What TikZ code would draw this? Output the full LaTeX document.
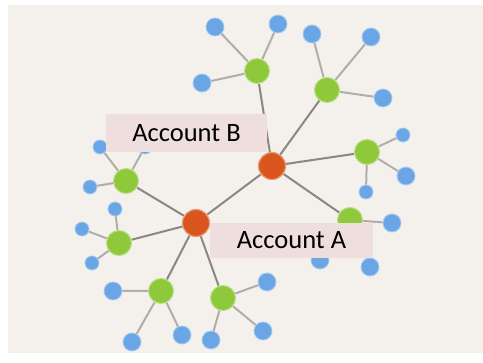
\documentclass[tikz,border=0pt]{standalone}
\usepackage{fontspec}
\setmainfont{Carlito}
\pgfdeclarelayer{bg}
\pgfsetlayers{bg,main}
\begin{document}
\begin{tikzpicture}[x=1pt,y=-1pt,
  red/.style={circle,fill=redc,draw=redc!60!white,line width=1.2pt,minimum size=27pt,inner sep=0pt},
  green/.style={circle,fill=greenc,draw=greenc!60!white,line width=1pt,minimum size=25pt,inner sep=0pt},
  blue/.style={circle,fill=bluec,draw=bluec!60!white,line width=0.8pt,minimum size=18pt,inner sep=0pt},
  blues/.style={circle,fill=bluec,draw=bluec!60!white,line width=0.8pt,minimum size=14pt,inner sep=0pt},
  edgemain/.style={draw=edgedark,line width=2pt},
  edgeleaf/.style={draw=edgelight,line width=2pt},
  label/.style={fill=labelc,inner sep=0pt,font=\fontsize{26.5}{30}\selectfont,text=black}
]
\definecolor{bgc}{HTML}{F4F0EB}
\definecolor{redc}{HTML}{D9561F}
\definecolor{greenc}{HTML}{8DC93A}
\definecolor{bluec}{HTML}{6AA6E6}
\definecolor{edgedark}{HTML}{8A8784}
\definecolor{edgelight}{HTML}{B0ADAA}
\definecolor{labelc}{HTML}{EEDEDD}
\useasboundingbox (0,0) rectangle (483,363);
% red
\node[red] (B) at (272,166) {};
\node[red] (A) at (196,223) {};
% green
\node[green] (g1) at (257,71) {};
\node[green] (g2) at (327,90) {};
\node[green] (g3) at (367,152) {};
\node[green] (g4) at (350,220) {};
\node[green] (g5) at (126,181) {};
\node[green] (g6) at (119,243) {};
\node[green] (g7) at (161,291) {};
\node[green] (g8) at (223,298) {};
% blue
\node[blue] (b11) at (215,27) {};
\node[blue] (b12) at (278,24) {};
\node[blue] (b13) at (202,83) {};
\node[blue] (b21) at (312,34) {};
\node[blue] (b22) at (371,37) {};
\node[blue] (b23) at (383,98) {};
\node[blues] (b31) at (403,135) {};
\node[blue] (b32) at (406,176) {};
\node[blues] (b33) at (366,192) {};
\node[blue] (b41) at (392,223) {};
\node[blue] (b42) at (370,267) {};
\node[blue] (b43) at (320,260) {};
\node[blues] (b51) at (100,147) {};
\node[blues] (b52) at (90,187) {};
\node[blues] (b53) at (145,147) {};
\node[blues] (b61) at (115,209) {};
\node[blues] (b62) at (82,229) {};
\node[blues] (b63) at (92,263) {};
\node[blue] (b71) at (113,291) {};
\node[blue] (b72) at (132,342) {};
\node[blue] (b73) at (182,335) {};
\node[blue] (b81) at (267,282) {};
\node[blue] (b82) at (211,340) {};
\node[blue] (b83) at (263,331) {};
% labels
\node[label,minimum width=161pt,minimum height=38pt] (LB) at (186.5,133) {\raisebox{-2.5pt}{Account B}};
\node[label,minimum width=163pt,minimum height=35pt] (LA) at (291.5,240.5) {\raisebox{-2pt}{Account A}};
\begin{pgfonlayer}{bg}
\fill[white] (0,0) rectangle (483,363);
\fill[bgc] (8,5) rectangle (483,353);
\path[edgemain] (A) -- (B) (B) -- (g1) (B) -- (g2) (B) -- (g3) (B) -- (g4)
  (A) -- (g5) (A) -- (g6) (A) -- (g7) (A) -- (g8);
\path[edgeleaf] (g1) -- (b11) (g1) -- (b12) (g1) -- (b13)
  (g2) -- (b21) (g2) -- (b22) (g2) -- (b23)
  (g3) -- (b31) (g3) -- (b32) (g3) -- (b33)
  (g4) -- (b41) (g4) -- (b42) (g4) -- (b43)
  (g5) -- (b51) (g5) -- (b52) (g5) -- (b53)
  (g6) -- (b61) (g6) -- (b62) (g6) -- (b63)
  (g7) -- (b71) (g7) -- (b72) (g7) -- (b73)
  (g8) -- (b81) (g8) -- (b82) (g8) -- (b83);
\end{pgfonlayer}
\end{tikzpicture}
\end{document}
